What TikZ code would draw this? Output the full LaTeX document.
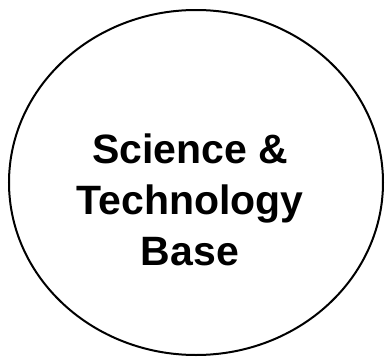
\documentclass[tikz,border=0pt]{standalone}
\usepackage{fontspec}
\setmainfont{Liberation Sans}
\begin{document}
\begin{tikzpicture}[x=1pt,y=1pt,
  blob/.style={draw=black,line width=2pt},
  label/.style={font=\fontsize{41}{51}\selectfont\bfseries,align=center,inner sep=0pt,text=black}]
\useasboundingbox (0,0) rectangle (386,-359);
\draw[blob] (196,-182.5) ellipse [x radius=187, y radius=172.5];
\node[label,anchor=base] (txt) at (190,-265) {Science \&\\Technology\\Base};
\end{tikzpicture}
\end{document}
